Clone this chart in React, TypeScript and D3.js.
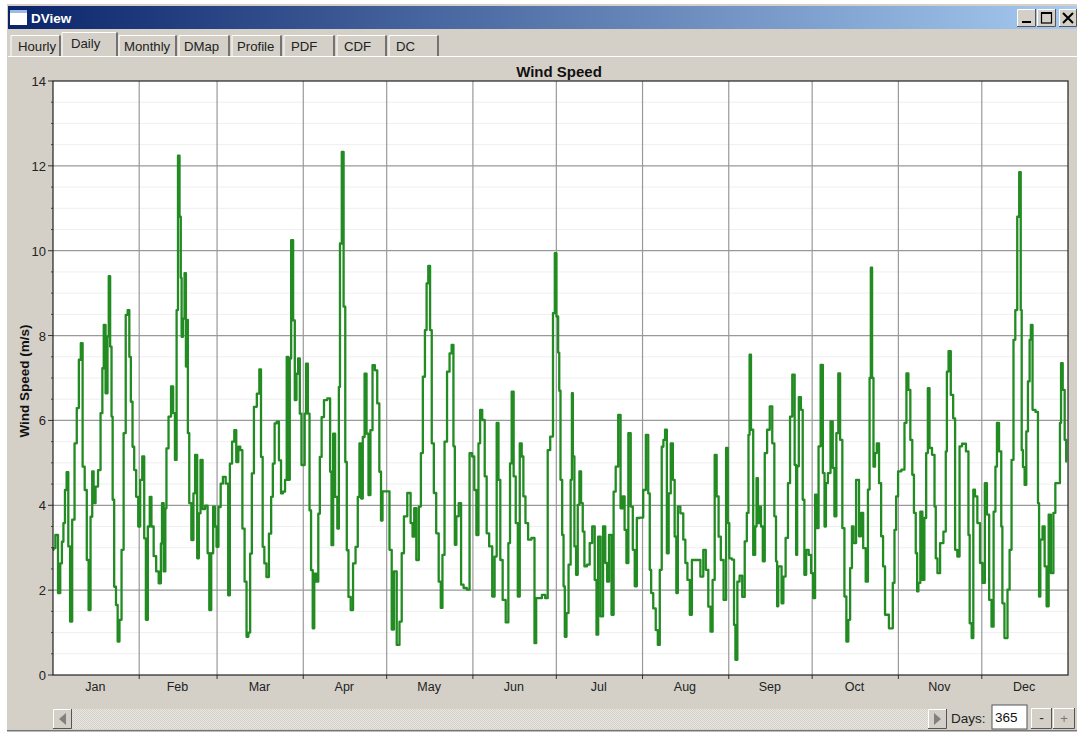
import React from "react";
import * as d3 from "d3";

const monthLabels = ["Jan","Feb","Mar","Apr","May","Jun","Jul","Aug","Sep","Oct","Nov","Dec"];
const monthStarts = [0,31,59,90,120,151,181,212,243,273,304,334,365];
const tabNames = ["Hourly","Daily","Monthly","DMap","Profile","PDF","CDF","DC"];
const yMajorTicks = [0,2,4,6,8,10,12,14];
const yMinorTicks = [0.5,1,1.5,2.5,3,3.5,4.5,5,5.5,6.5,7,7.5,8.5,9,9.5,10.5,11,11.5,12.5,13,13.5];

// [day of year, wind speed m/s]
const janFeb: [number, number][] = [
[0,2.95],[0.4,2.99],[1.3,3.3],[2.3,1.93],[2.9,2.63],[3.5,3.14],[4,3.58],[4.6,4.36],[5.2,4.78],[5.8,3.03],[6.5,1.26],[7.3,3.66],[8.2,5.46],[8.9,6.29],[9.7,7.43],[10.3,7.82],[11,4.91],[11.8,4.36],[12.5,2.71],[13.1,1.53],[13.9,3.73],[14.3,4.8],[14.9,4.05],[15.7,4.44],[16.7,4.83],[17.5,6.17],[18,7.23],[18.5,8.25],[19.3,6.64],[19.9,7.98],[20.2,9.4],[20.9,7.74],[21.2,6.09],[21.7,4.13],[22.3,2.08],[23,1.65],[23.5,0.79],[24.3,1.3],[25,2.95],[25.8,5.7],[26.5,8.49],[27.2,8.6],[27.7,7.5],[28.3,6.44],[28.9,5.38],[29.5,4.83],[30.3,4.2],[31,3.5],
[31.7,4.6],[32.5,5.15],[33.1,3.22],[33.7,1.3],[34.5,3.5],[35.1,4.2],[35.7,3.5],[36.7,2.8],[37.5,2.44],[38.5,2.16],[39.1,3.1],[39.3,4.05],[40.3,2.44],[40.5,3.93],[41.1,5.34],[42,6.09],[42.9,6.8],[43.5,6.17],[44.2,5.07],[44.7,8.6],[45.2,12.24],[45.8,10.8],[46.1,9.36],[46.4,7.97],[47.1,8.4],[47.5,9.47],[48.1,7.27],[48.3,8.37],[48.7,5.7],[49.3,4.05],[50.2,3.18],[50.8,4.28],[51.4,5.19],[52.3,2.75],[52.6,3.81],[53.5,5.07],[54.1,3.91],[55.3,3.99],[55.9,2.87],[56.5,1.53],[57.3,2.87],[57.9,3.97],[58.5,3.5],
];
const marApr: [number, number][] = [
[59.1,3.02],[59.9,3.96],[60.7,4.51],[61.5,4.67],[62.7,4.51],[63.3,1.88],[63.9,4.98],[64.9,5.5],[65.5,5.77],[66.3,5.02],[67,5.38],[67.7,5.3],[68.5,3.45],[69.3,2.2],[69.9,0.9],[70.6,1.0],[71.2,2.86],[71.8,4.75],[72.7,6.32],[73.9,6.63],[74.5,7.2],[75.1,5.14],[75.7,3.02],[76.3,2.63],[77.2,2.31],[78.1,3.33],[78.8,4.2],[79.3,4.98],[80.1,5.93],[80.8,5.97],[81.7,5.06],[82.3,4.28],[83.1,4.32],[83.8,4.6],[84.3,7.5],[85,4.6],[85.3,7.46],[86,10.25],[86.7,8.36],[87.2,6.48],[87.9,7.1],[88.4,7.46],[89.1,6.16],[89.6,4.95],
[90.3,4.95],[90.7,6.16],[91.3,7.34],[92,6.16],[92.5,3.88],[93.1,2.47],[93.7,1.1],[94.2,2.39],[95.1,2.2],[95.7,3.8],[96.2,5.14],[97,6.08],[97.9,6.48],[99.4,6.52],[99.9,4.79],[100.4,3.06],[101.1,5.69],[101.8,4.2],[102.7,3.45],[102.9,6.79],[103.5,10.17],[104.2,12.33],[104.8,8.68],[105.4,5.02],[105.9,2.94],[106.6,1.84],[107.5,1.53],[108.3,2.63],[109.3,3.02],[109.9,4.2],[110.5,5.46],[111.1,4.16],[111.7,5.61],[112.4,7.1],[113.1,5.69],[113.8,4.24],[114.5,5.77],[115.3,7.3],[116.2,7.18],[117,6.4],[117.7,4.79],[118.2,3.64],[118.8,4.33],
];
const mayJun: [number, number][] = [
[120.6,4.33],[121.4,2.95],[122.2,1.07],[123,2.44],[124.2,0.71],[125,1.26],[125.8,2.87],[126.6,3.74],[128.2,4.29],[129,3.58],[129.6,3.26],[130.2,3.93],[131.1,2.71],[132,3.97],[132.6,5.23],[133.4,7.03],[134.1,8.13],[134.6,9.23],[135.3,9.64],[135.9,8.13],[136.5,5.46],[137.4,4.29],[138.2,3.34],[139.2,2.2],[139.7,1.58],[140.4,2.83],[141.2,5.5],[142.2,7.15],[143,7.58],[143.7,7.78],[144.3,5.39],[144.7,3.07],[145.4,3.74],[146.4,4.05],[147.1,2.13],[148.2,2.05],[149.4,2.01],[150.2,5.23],
[151.2,5.15],[151.8,4.36],[152.7,3.3],[153.3,5.46],[153.9,6.25],[154.8,6.01],[155.7,4.68],[156.2,3.34],[157.5,3.03],[158.4,1.85],[159.2,2.79],[159.9,5.94],[160.5,4.6],[161.2,2.71],[162.2,1.77],[163.4,1.24],[164.1,3.11],[164.6,4.99],[165.3,6.68],[166,4.68],[166.8,3.58],[167.5,1.85],[168.2,5.46],[168.9,5.15],[169.4,4.21],[170.4,3.58],[171.3,3.19],[172.8,3.23],[173.5,0.75],[174,1.81],[175.2,1.81],[176.4,1.89],[177.6,1.81],[178.2,5.3],[179.4,5.62],[180.2,8.53],[180.7,9.94],
];
const julAug: [number, number][] = [
[181.4,8.45],[181.9,7.6],[182.2,6.7],[182.8,4.6],[183.4,3.3],[183.8,2.09],[184.3,0.9],[185,1.46],[185.8,2.6],[186.5,4.6],[186.7,6.64],[187.2,5.15],[187.8,3.03],[188.4,2.36],[189,4.01],[189.6,4.8],[190.2,4.05],[190.8,3.38],[191.4,2.56],[192.6,2.6],[193.4,3.11],[194.4,3.5],[195.2,2.24],[195.7,0.95],[196.4,3.26],[197.4,1.38],[198.2,3.5],[199,2.64],[199.5,2.2],[200.4,3.3],[201.3,1.42],[201.9,4.32],[202.8,4.91],[203.7,6.13],[204.5,3.93],[205.2,4.21],[205.9,3.42],[206.5,2.64],[207.3,5.7],[208.2,3.97],[208.8,2.95],[209.6,2.09],[210.3,3.7],[211.8,3.71],
[212.7,4.36],[213.7,5.66],[214.4,4.28],[214.8,2.48],[215.4,1.93],[216.3,1.57],[217.2,1.06],[217.8,0.71],[218.6,2.48],[219.2,5.38],[219.8,5.54],[220.4,5.78],[221.1,2.87],[221.7,4.28],[222.6,5.46],[223.2,4.6],[223.9,3.26],[224.4,1.93],[225,3.97],[226.2,3.81],[227.1,3.19],[227.7,2.64],[228.6,2.24],[229.4,1.42],[230.1,2.71],[232.2,2.71],[233.4,2.32],[234.3,2.95],[235.2,2.48],[236.1,1.61],[236.8,1.02],[237.6,2.24],[238.3,5.19],[239,4.21],[239.7,3.26],[240.6,2.71],[241.7,1.77],[242.4,5.35],
];
const sepOct: [number, number][] = [
[242.9,3.58],[243.5,2.75],[244.7,2.72],[245.1,1.18],[245.7,0.36],[246.5,2.2],[247.3,2.34],[248.4,1.84],[249.1,3.15],[249.9,3.82],[250.3,5.66],[250.7,7.55],[251.3,5.78],[252.3,2.83],[252.7,3.5],[253.3,4.64],[253.7,3.58],[254.3,3.97],[254.9,3.5],[255.6,2.68],[256.3,5.23],[257.3,5.78],[258.2,6.33],[259.1,5.46],[259.7,3.74],[260.3,2.68],[260.5,1.62],[261.1,2.56],[261.7,2.56],[262.3,1.69],[263,2.32],[263.9,3.23],[264.7,4.52],[265.4,6.09],[266.3,7.08],[267.1,4.95],[267.4,2.83],[267.8,4.92],[268.6,6.55],[269.3,6.25],[269.9,4.13],[270.5,2.36],[271.2,2.95],[272.3,2.83],[272.9,2.4],
[273.8,1.81],[274.3,4.25],[275,3.46],[275.6,5.39],[276.5,7.31],[277.2,4.76],[277.7,3.5],[278.2,4.52],[279.1,4.76],[280.1,5.98],[280.7,4.88],[281.3,3.74],[282.1,5.7],[282.7,7.11],[283.4,5.54],[284.3,3.46],[284.9,1.85],[285.7,0.79],[286.3,1.3],[287,2.52],[287.6,3.5],[288.2,3.11],[289.4,4.6],[290.3,3.27],[290.9,3.82],[291.8,2.99],[292.7,2.2],[293.4,4.37],[293.9,7.0],[294.3,9.6],[294.8,7.0],[295.3,4.91],[295.9,5.23],[296.6,5.46],[297.5,4.52],[298.1,3.27],[298.9,2.56],[299.5,1.42],[301.7,1.1],[302.3,2.17],[302.9,3.42],[303.5,4.21],
];
const novDec: [number, number][] = [
[304.3,4.8],[305.9,4.84],[306.5,5.94],[307.3,7.11],[307.9,6.72],[308.7,5.54],[309.3,4.72],[309.9,3.82],[310.6,2.87],[310.9,1.97],[311.5,2.17],[312.3,3.85],[313,2.24],[313.7,3.7],[314.3,5.23],[314.9,6.76],[315.5,5.35],[316.7,5.19],[317.3,3.97],[317.6,2.75],[318.5,2.4],[319.5,3.11],[320.9,3.38],[321.2,5.27],[321.7,7.15],[322.4,7.63],[323.3,6.6],[324.1,6.05],[324.7,2.95],[325.7,2.79],[326.3,5.39],[327.5,5.45],[329.1,5.27],[329.3,3.3],[330,1.22],[330.7,0.87],[331.2,4.37],[331.9,4.21],[332.9,3.58],[333.8,2.64],
[334.7,2.17],[335.5,4.52],[336.2,3.78],[337.1,1.77],[337.9,1.14],[338.6,3.85],[339.2,4.91],[339.7,5.94],[340.7,5.27],[341.3,3.5],[341.5,1.69],[342.8,0.87],[343.7,2.01],[344.3,2.95],[345.1,5.07],[345.7,7.9],[346.4,8.6],[347.1,10.8],[347.8,11.85],[348.2,8.6],[348.5,5.3],[349.1,4.9],[349.7,4.48],[350.3,5.74],[350.9,6.92],[351.5,7.9],[351.8,8.25],[352.7,6.25],[353.9,6.2],[354.5,4.05],[354.7,1.85],[355.4,3.19],[356.3,3.5],[356.9,2.56],[357.7,1.62],[358.4,3.78],[359.3,2.4],[360.2,3.82],[360.7,4.52],[361.9,4.52],[362.3,5.94],[362.7,7.35],[363.5,6.72],[364.1,5.54],[364.6,5.03],
];

const speedSeries = [...janFeb, ...marApr, ...mayJun, ...julAug, ...sepOct, ...novDec];

const W = 1077, H = 734;
const plot = { left: 53, right: 1068, top: 81, bottom: 675 };
const BG = "#d4d0c8";
const FONT = "'Liberation Sans', Arial, sans-serif";

const tabEdges = [10,62,118,178,231,283,336,388,440];

const Raised = ({ x, y, w, h }: { x: number; y: number; w: number; h: number }) => (
  <g>
    <rect x={x} y={y} width={w} height={h} fill={BG} />
    <path d={`M${x + 0.5} ${y + h}V${y + 0.5}H${x + w}`} fill="none" stroke="#fff" />
    <path d={`M${x + w - 0.5} ${y}V${y + h - 0.5}H${x}`} fill="none" stroke="#555" />
  </g>
);

export default function App() {
  const x = d3.scaleLinear().domain([0, 365]).range([plot.left, plot.right]);
  const y = d3.scaleLinear().domain([0, 14]).range([plot.bottom, plot.top]);
  const line = d3.line<[number, number]>().x((d) => x(d[0])).y((d) => y(d[1])).curve(d3.curveStep);
  const midY = (plot.top + plot.bottom) / 2;

  return (
    <svg width={W} height={H} style={{ position: "fixed", left: 0, top: 0, display: "block" }} fontFamily={FONT}>
      <defs>
        <linearGradient id="title" x1="0" x2="1" y1="0" y2="0">
          <stop offset="0" stopColor="#0a246a" />
          <stop offset="1" stopColor="#a6caf0" />
        </linearGradient>
        <pattern id="dither" width="2" height="2" patternUnits="userSpaceOnUse">
          <rect width="2" height="2" fill="#e9e7e2" />
          <rect width="1" height="1" fill={BG} />
          <rect x="1" y="1" width="1" height="1" fill={BG} />
        </pattern>
      </defs>
      <rect width={W} height={H} fill="#fff" />
      <rect x={7} y={4} width={W - 7} height={727} fill={BG} />
      <rect x={7} y={730} width={W - 7} height={1.5} fill="#777" />
      <rect x={8} y={6} width={W - 8} height={23} fill="url(#title)" />

      {/* title bar */}
      <rect x={10} y={10} width={17} height={15} fill="#fff" />
      <rect x={10} y={10} width={17} height={3} fill="#9db9e8" />
      <text x={31} y={23} fontSize={13.5} fontWeight="bold" fill="#fff">DView</text>
      <Raised x={1017} y={9} w={19} h={18} />
      <Raised x={1037} y={9} w={19} h={18} />
      <Raised x={1059} y={9} w={18} h={18} />
      <rect x={1022} y={21} width={9} height={2} fill="#000" />
      <rect x={1041.5} y={13} width={10} height={10} fill="none" stroke="#000" strokeWidth={1.2} />
      <rect x={1041} y={12} width={11} height={2} fill="#000" />
      <path d="M1063 13L1073 23M1073 13L1063 23" stroke="#000" strokeWidth={2} />

      {/* tabs */}
      <path d={`M8 56.5H${W}`} stroke="#fff" />
      {tabNames.map((t, i) => {
        const active = i === 1;
        const x0 = tabEdges[i] + (active ? 0 : 1);
        const x1 = tabEdges[i + 1] - (active ? 0 : 1);
        const top = active ? 31.5 : 34.5;
        return (
          <g key={t}>
            <path d={`M${x0} 56V${top + 1}H${x1 - 1.5}`} fill={BG} stroke="#fff" />
            <path d={`M${x1 - 1} ${top + 1}V56`} fill="none" stroke="#555" strokeWidth={1.5} />
            <text x={i === 1 ? 71 : x0 + (i > 4 ? 7 : i === 0 ? 7 : 5)} y={active ? 48 : 51} fontSize={13.2} fill="#222">{t}</text>
          </g>
        );
      })}

      {/* plot */}
      <rect x={plot.left} y={plot.top} width={plot.right - plot.left} height={plot.bottom - plot.top} fill="#fff" />
      {yMinorTicks.map((v) => (
        <g key={v}>
          <line x1={plot.left} x2={plot.right} y1={y(v)} y2={y(v)} stroke="#efefef" />
          <line x1={plot.left - 2} x2={plot.left} y1={y(v)} y2={y(v)} stroke="#444" />
        </g>
      ))}
      {yMajorTicks.map((v) => (
        <g key={v}>
          {v > 0 && v < 14 && <line x1={plot.left} x2={plot.right} y1={y(v)} y2={y(v)} stroke="#999" strokeWidth={1.2} />}
          <line x1={plot.left - 5} x2={plot.left} y1={y(v)} y2={y(v)} stroke="#333" />
          <text x={plot.left - 7} y={y(v) + 5} textAnchor="end" fontSize={13} fill="#222">{v}</text>
        </g>
      ))}
      {monthStarts.slice(1, -1).map((d) => (
        <g key={d}>
          <line x1={x(d)} x2={x(d)} y1={plot.top} y2={plot.bottom} stroke="#999" strokeWidth={1.2} />
          <line x1={x(d)} x2={x(d)} y1={plot.bottom} y2={plot.bottom + 4} stroke="#333" />
        </g>
      ))}
      <path d={line(speedSeries) ?? ""} fill="none" stroke="#228b22" strokeWidth={2.3} strokeLinejoin="round" />
      <rect x={plot.left} y={plot.top} width={plot.right - plot.left} height={plot.bottom - plot.top} fill="none" stroke="#222" strokeWidth={1.2} />
      {monthLabels.map((m, i) => (
        <text key={m} x={x((monthStarts[i] + monthStarts[i + 1]) / 2) - 0.7} y={691} textAnchor="middle" fontSize={12.5} fill="#222">{m}</text>
      ))}
      <text x={(plot.left + plot.right) / 2 - 1.5} y={77} textAnchor="middle" fontSize={15} fontWeight="bold" fill="#111">Wind Speed</text>
      <text transform={`translate(29 ${midY + 3}) rotate(-90)`} textAnchor="middle" fontSize={13.5} fontWeight="bold" fill="#111">Wind Speed (m/s)</text>

      {/* bottom controls */}
      <rect x={72} y={709} width={856} height={20} fill="url(#dither)" />
      <Raised x={53} y={709} w={19} h={20} />
      <path d="M66 713V725L59 719Z" fill="#808080" />
      <Raised x={928} y={709} w={19} h={20} />
      <path d="M934 713V725L941 719Z" fill="#808080" />
      <text x={951} y={723} fontSize={13.5} fill="#222">Days:</text>
      <rect x={992} y={705} width={35} height={24} fill="#fff" stroke="#555" />
      <text x={995} y={722} fontSize={13.5} fill="#111">365</text>
      <Raised x={1031} y={708} w={21} h={21} />
      <Raised x={1053} y={708} w={22} h={21} />
      <text x={1041.5} y={723} textAnchor="middle" fontSize={14} fill="#333">-</text>
      <text x={1064} y={723} textAnchor="middle" fontSize={13} fill="#777">+</text>
    </svg>
  );
}
